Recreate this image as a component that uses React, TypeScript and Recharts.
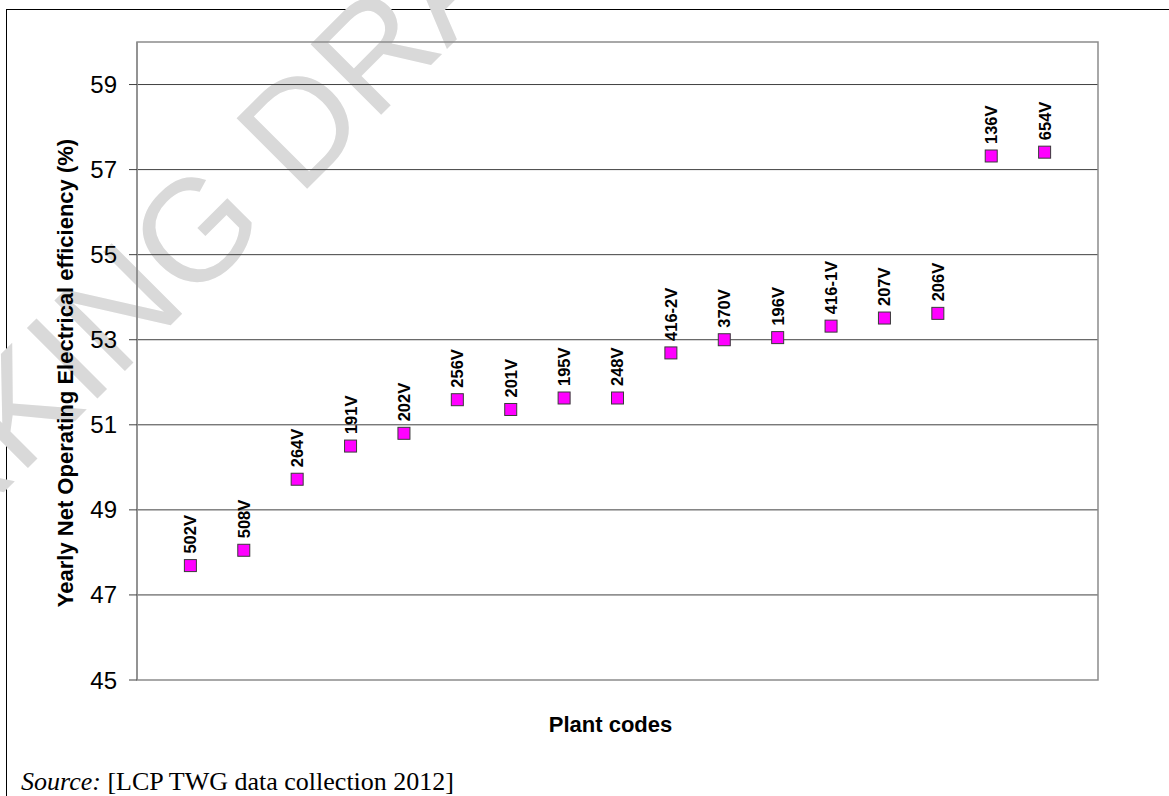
import {
  CartesianGrid,
  Label,
  ReferenceArea,
  Scatter,
  ScatterChart,
  XAxis,
  YAxis,
} from "recharts";

const plantCodes = [
  "502V", "508V", "264V", "191V", "202V", "256V", "201V", "195V", "248V",
  "416-2V", "370V", "196V", "416-1V", "207V", "206V", "136V", "654V",
];

const efficiency = [
  47.69, 48.05, 49.72, 50.5, 50.8, 51.59, 51.36, 51.63, 51.63,
  52.69, 53.0, 53.05, 53.32, 53.51, 53.62, 57.32, 57.41,
];

const yTicks = [45, 47, 49, 51, 53, 55, 57, 59];
const gridValues = [47, 49, 51, 53, 55, 57, 59];

const data = plantCodes.map((code, i) => ({ pos: i + 1, eff: efficiency[i], code }));

const SANS = "'Liberation Sans', Arial, sans-serif";
const SERIF = "'Liberation Serif', 'Times New Roman', serif";

function PlantMarker(props: any) {
  const { cx, cy, payload } = props;
  const tx = cx + 6;
  const ty = cy - 12;
  return (
    <g>
      <rect x={cx - 6} y={cy - 6} width={12} height={12} fill="#ff00ff" stroke="#3a3a3a" strokeWidth={1} />
      <text
        x={tx}
        y={ty}
        transform={`rotate(-90 ${tx} ${ty})`}
        fontFamily={SANS}
        fontSize={16.5}
        fontWeight="bold"
        fill="#000"
      >
        {payload.code}
      </text>
    </g>
  );
}

export default function App() {
  return (
    <div
      style={{
        position: "absolute",
        left: 0,
        top: 0,
        width: 1169,
        height: 796,
        background: "#fff",
        overflow: "hidden",
      }}
    >
      {/* page frame */}
      <div
        style={{
          position: "absolute",
          left: 6,
          top: 9,
          width: 1200,
          height: 820,
          borderLeft: "1.5px solid #000",
          borderTop: "1.5px solid #000",
        }}
      />
      {/* watermark + source note */}
      <svg width={1169} height={796} style={{ position: "absolute", left: 0, top: 0 }}>
        <text
          x={-231}
          y={727}
          transform="rotate(-45 -231 727)"
          fontFamily={SANS}
          fontSize={145}
          fill="#d9d9d9"
        >
          WORKING DRAFT
        </text>
        <text x={21} y={790} fontFamily={SERIF} fontSize={26} fill="#000">
          <tspan fontStyle="italic">Source:</tspan> [LCP TWG data collection 2012]
        </text>
      </svg>
      <div style={{ position: "absolute", left: 0, top: 0 }}>
        <ScatterChart
          width={1169}
          height={796}
          margin={{ top: 42, right: 71, bottom: 56, left: 77 }}
        >
          <CartesianGrid
            vertical={false}
            horizontalValues={gridValues}
            stroke="#404040"
            strokeWidth={1}
          />
          <ReferenceArea
            x1={0}
            x2={18}
            y1={45}
            y2={60}
            fill="none"
            stroke="#8c8c8c"
            strokeWidth={1.5}
            ifOverflow="visible"
          />
          <XAxis
            type="number"
            dataKey="pos"
            domain={[0, 18]}
            height={60}
            axisLine={false}
            tick={false}
            tickLine={false}
          >
            <Label
              value="Plant codes"
              position="center"
              dx={-7}
              dy={14}
              fontFamily={SANS}
              fontSize={22}
              fontWeight="bold"
              fill="#000"
            />
          </XAxis>
          <YAxis
            type="number"
            dataKey="eff"
            domain={[45, 60]}
            ticks={yTicks}
            width={60}
            axisLine={{ stroke: "#8c8c8c", strokeWidth: 1.5 }}
            tickLine={{ stroke: "#404040" }}
            tickSize={8}
            tickMargin={12}
            tick={{ fontSize: 24, fill: "#000", fontFamily: SANS }}
          >
            <Label
              value="Yearly Net Operating Electrical efficiency (%)"
              position="center"
              angle={-90}
              dx={-42}
              dy={12}
              fontFamily={SANS}
              fontSize={22}
              fontWeight="bold"
              fill="#000"
            />
          </YAxis>
          <Scatter data={data} shape={PlantMarker} isAnimationActive={false} />
        </ScatterChart>
      </div>
    </div>
  );
}
